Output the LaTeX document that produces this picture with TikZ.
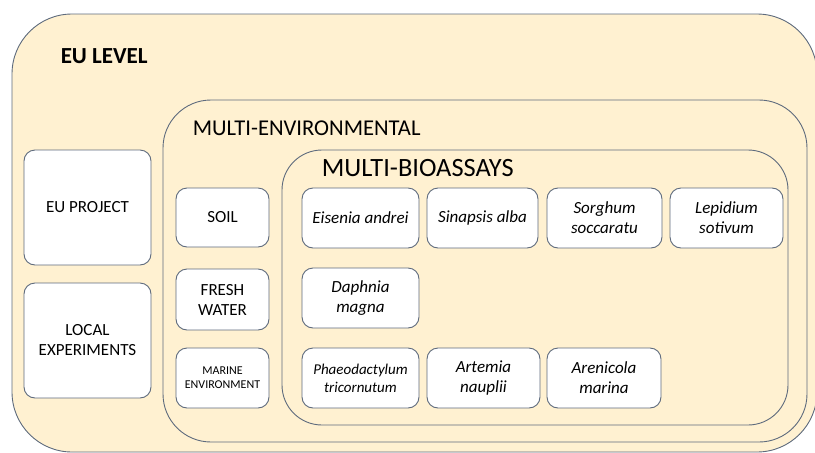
\documentclass[tikz,border=0pt]{standalone}
\usepackage{fontspec}
\setmainfont{Carlito}
\usetikzlibrary{calc}
\definecolor{regionfill}{HTML}{FFF1D1}
\definecolor{edgegray}{HTML}{5E6B7D}
\tikzset{
    my-region/.style={
        draw=edgegray, fill=regionfill, line width=0.9pt, rectangle, inner sep=0pt
    },
    my-box/.style={
        draw=edgegray, fill=white, line width=0.9pt, rectangle, rounded corners=11pt,
        inner sep=0pt, align=center, font=\fontsize{17}{20}\selectfont
    },
    my-species/.style={
        my-box, minimum height=60pt, font=\fontsize{17}{20}\selectfont\itshape
    },
}

\begin{document}
\begin{tikzpicture}[x=1pt, y=-1pt]

        \useasboundingbox (0,0) rectangle (815,453);

        % REGIONS
        \node[my-region, rounded corners=60pt, minimum width=805pt, minimum height=438pt] (EU)  at (414.5,233)   {};
        \node[my-region, rounded corners=48pt, minimum width=644pt, minimum height=342pt] (ENV) at (485,271)     {};
        \node[my-region, rounded corners=40pt, minimum width=506pt, minimum height=275pt] (BIO) at (535,287.5)   {};

        % REGION LABELS
        \node[anchor=base west, inner sep=0pt, font=\fontsize{23}{27}\selectfont\bfseries] (EULABEL)  at ($(EU.north west)  + (49,50)$) {EU LEVEL};
        \node[anchor=base west, inner sep=0pt, font=\fontsize{22.6}{27}\selectfont]        (ENVLABEL) at ($(ENV.north west) + (30,36)$) {MULTI-ENVIRONMENTAL};
        \node[anchor=base west, inner sep=0pt, font=\fontsize{26.4}{31}\selectfont]        (BIOLABEL) at ($(BIO.north west) + (40,27)$) {MULTI-BIOASSAYS};

        % EU LEVEL BOXES
        \node[my-box, minimum width=127pt, minimum height=115pt] (PROJECT) at (87.5,207.5) {EU PROJECT};
        \node[my-box, minimum width=127pt, minimum height=115pt] (LOCAL)   at (87.5,340.5) {LOCAL\\EXPERIMENTS};

        % ENVIRONMENT BOXES
        \node[my-box, minimum width=93pt, minimum height=59pt] (SOIL)   at (222.5,217.5) {SOIL};
        \node[my-box, minimum width=93pt, minimum height=61pt] (FRESH)  at (222.5,299.5) {FRESH\\WATER};
        \node[my-box, minimum width=93pt, minimum height=60pt, font=\fontsize{12}{14}\selectfont] (MARINE) at (222.5,378) {MARINE\\ENVIRONMENT};

        % BIOASSAY BOXES
        \node[my-species, minimum width=117pt] (EISENIA)  at (360.5,218) {Eisenia andrei};
        \node[my-species, minimum width=111pt] (SINAPSIS) at (482.5,218) {Sinapsis alba};
        \node[my-species, minimum width=115pt] (SORGHUM)  at (604.5,218) {Sorghum\\soccaratu};
        \node[my-species, minimum width=113pt] (LEPIDIUM) at (726.5,218) {Lepidium\\sotivum};
        \node[my-species, minimum width=117pt] (DAPHNIA)  at (360.5,298) {Daphnia\\magna};
        \node[my-species, minimum width=117pt, font=\fontsize{15}{18}\selectfont\itshape] (PHAEO) at (360.5,378) {Phaeodactylum\\tricornutum};
        \node[my-species, minimum width=113pt] (ARTEMIA)  at (483.5,378) {Artemia\\nauplii};
        \node[my-species, minimum width=114pt] (ARENICOLA) at (604,378)  {Arenicola\\marina};

    \end{tikzpicture}
\end{document}
